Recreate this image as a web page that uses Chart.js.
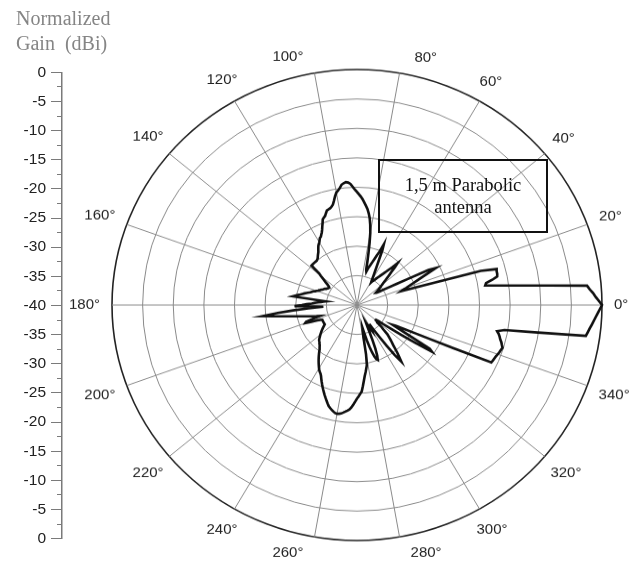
<!DOCTYPE html>
<html>
<head>
<meta charset="utf-8">
<title>Normalized Gain</title>
<script src="https://cdn.jsdelivr.net/npm/chart.js@4.4.1/dist/chart.umd.min.js"></script>
<style>
  html, body { margin: 0; padding: 0; background: #fff; }
  #wrap { position: relative; width: 644px; height: 569px; overflow: hidden; background: #fff; }
  #polar { position: absolute; left: 0; top: 0; transform-origin: 0 305px; transform: scaleY(0.9612); }
  #gainAxis { position: absolute; left: 0; top: 58px; }
  #title { position: absolute; left: 16px; top: 6px; font-family: "Liberation Serif", "Times New Roman", serif;
           font-size: 20px; line-height: 25px; color: #858585; white-space: pre; }
  #note { position: absolute; left: 378px; top: 159px; width: 170px; height: 74px; box-sizing: border-box;
          border: 2px solid #111; padding-top: 13px; text-align: center;
          font-family: "Liberation Serif", "Times New Roman", serif; font-size: 18.5px; line-height: 22px; color: #111; }
</style>
</head>
<body>
<div id="wrap">
  <canvas id="polar" width="644" height="569"></canvas>
  <canvas id="gainAxis" width="70" height="495"></canvas>
  <div id="title">Normalized
Gain  (dBi)</div>
  <div id="note">1,5 m Parabolic<br>antenna</div>
</div>
<script>
// Radiation pattern, gain in dB at every degree (index = azimuth, counter-clockwise from 0°)
const gainDb = [
  0.0, -0.5, -1.0, -1.4, -1.9, -2.3, -8.4, -12.9, -16.2, -18.8,            // 0-9
  -18.6, -17.5, -16.6, -16.5, -16.5, -16.4, -19.0, -28.4, -32.4, -32.0,    // 10-19
  -31.4, -30.8, -30.1, -29.3, -28.4, -27.2, -25.7, -26.9, -30.5, -32.6,    // 20-29
  -33.9, -34.8, -35.6, -36.2, -36.3, -36.0, -35.8, -35.5, -35.3, -35.0,    // 30-39
  -34.7, -34.3, -33.8, -33.3, -32.7, -32.0, -31.1, -30.3, -31.4, -32.0,    // 40-49
  -32.6, -33.1, -33.5, -33.9, -34.2, -34.5, -34.8, -35.0, -35.2, -35.5,    // 50-59
  -35.2, -34.7, -34.1, -33.4, -32.5, -31.4, -29.8, -28.8, -30.3, -31.0,    // 60-69
  -31.7, -32.3, -32.8, -33.2, -33.6, -34.1, -33.8, -32.5, -31.0, -29.2,    // 70-79
  -27.5, -26.2, -25.1, -24.3, -23.6, -23.1, -22.6, -22.05, -21.6, -21.2,   // 80-89
  -20.8, -20.4, -19.9, -19.4, -19.15, -19.05, -19.2, -19.4, -19.9, -20.3,  // 90-99
  -20.6, -21.2, -21.9, -22.5, -22.8, -23.0, -23.1, -23.2, -23.6, -24.0,    // 100-109
  -24.2, -24.4, -25.0, -25.5, -26.0, -26.4, -26.7, -27.0, -27.1, -27.4,    // 110-119
  -27.7, -27.9, -28.1, -28.4, -28.7, -29.0, -29.2, -29.4, -29.6, -29.8,    // 120-129
  -29.9, -30.0, -30.0, -30.0, -30.0, -30.0, -30.0, -30.0, -30.0, -31.8,    // 130-139
  -32.3, -32.8, -33.2, -33.6, -34.0, -34.3, -34.5, -34.6, -34.5, -34.5,    // 140-149
  -34.4, -34.3, -34.1, -34.0, -33.9, -33.8, -33.6, -33.5, -33.3, -33.2,    // 150-159
  -33.0, -32.8, -32.5, -32.3, -32.1, -31.85, -31.5, -31.2, -30.9, -30.6,   // 160-169
  -30.2, -29.8, -29.4, -34.9, -34.5, -34.1, -33.6, -33.1, -32.6, -31.8,    // 170-179
  -31.0, -29.8, -33.0, -34.5, -32.0, -29.5, -27.0, -24.5, -26.3, -27.8,    // 180-189
  -29.0, -30.0, -30.8, -31.5, -32.1, -32.6, -33.1, -33.6, -32.3, -31.2,    // 190-199
  -31.0, -32.0, -33.0, -33.5, -33.8, -33.8, -33.8, -33.8, -33.8, -33.8,    // 200-209
  -33.8, -33.8, -33.8, -33.6, -33.4, -33.2, -33.0, -32.8, -32.6, -32.4,    // 210-219
  -32.2, -32.0, -31.8, -31.6, -31.4, -31.3, -31.2, -31.0, -30.9, -30.7,    // 220-229
  -30.5, -30.3, -30.0, -29.7, -29.4, -29.1, -28.8, -28.5, -28.2, -27.9,    // 230-239
  -27.6, -27.3, -27.1, -26.9, -26.6, -26.2, -25.8, -25.4, -25.0, -24.6,    // 240-249
  -24.2, -23.8, -23.4, -23.0, -22.6, -22.2, -21.95, -21.7, -21.5, -21.3,   // 250-259
  -21.25, -21.3, -21.4, -21.6, -21.8, -22.0, -22.2, -22.6, -23.1, -23.6,   // 260-269
  -24.1, -24.5, -24.9, -25.3, -26.2, -27.1, -27.9, -28.5, -29.1, -29.7,    // 270-279
  -31.5, -34.6, -35.5, -36.0, -35.0, -33.8, -32.6, -31.6, -30.8, -30.3,    // 280-289
  -30.1, -30.8, -32.0, -33.5, -35.0, -36.0, -36.6, -36.0, -35.5, -35.0,    // 290-299
  -35.5, -36.0, -36.0, -35.0, -33.5, -31.5, -29.5, -28.0, -28.8, -29.5,    // 300-309
  -30.3, -31.0, -31.5, -32.0, -32.5, -33.0, -34.0, -34.5, -35.5, -35.5,    // 310-319
  -36.0, -36.0, -35.5, -34.5, -33.0, -31.0, -28.5, -25.4, -26.0, -31.0,    // 320-329
  -33.3, -32.8, -31.5, -29.8, -27.2, -22.7, -16.0, -15.9, -15.8, -15.7,    // 330-339
  -15.55, -15.4, -15.3, -15.15, -15.4, -15.6, -15.9, -16.1, -16.35, -16.7, // 340-349
  -15.55, -10.1, -2.28, -2.04, -1.8, -1.53, -1.25, -0.97, -0.66, -0.34     // 350-359
];

// Angle scale: one category per degree, clockwise from 0° at the right
const angleDeg = Array.from({ length: 360 }, (_, i) => (360 - i) % 360);
// Labelled azimuths and radial ring values
const angleTicks = [0, 20, 40, 60, 80, 100, 120, 140, 160, 180, 200, 220, 240, 260, 280, 300, 320, 340];
const gainMin = -40, gainMax = 0, gainStep = 5;

const gridGrey = '#8a8a8a';
const labelFont = '15px "Liberation Sans", Arial, Helvetica, sans-serif';
// labels next to the vertical axis are nudged sideways, clear of the 90°/270° lines
const labelNudge = { 80: -5, 100: 5, 260: -5, 280: 5 };

// Azimuth labels placed just outside the outer ring, via the radial scale
const azimuthLabels = {
  id: 'azimuthLabels',
  afterDraw(chart) {
    const r = chart.scales.r;
    const ctx = chart.ctx;
    ctx.save();
    ctx.font = labelFont;
    ctx.fillStyle = '#222';
    ctx.textAlign = 'center';
    ctx.textBaseline = 'middle';
    angleTicks.forEach(a => {
      const text = a + '\u00B0';
      const w = ctx.measureText(text).width;
      const at = a + (labelNudge[a] || 0);
      const rad = at * Math.PI / 180;
      const extent = Math.abs(Math.cos(rad)) * w / 2 + Math.abs(Math.sin(rad)) * 6;
      const p = r.getPointPosition((360 - at) % 360, r.drawingArea + 12 + extent);
      ctx.fillText(text, p.x, p.y);
    });
    ctx.restore();
  }
};

new Chart(document.getElementById('polar'), {
  type: 'radar',
  data: {
    labels: angleDeg,
    datasets: [{
      data: angleDeg.map(a => gainDb[a]),
      borderColor: '#111',
      borderWidth: 2.6,
      fill: false,
      pointRadius: 0,
      pointHoverRadius: 0,
      tension: 0
    }]
  },
  options: {
    responsive: false,
    animation: false,
    layout: { padding: { left: 112, right: 41, top: 60, bottom: 18 } },
    plugins: { legend: { display: false }, tooltip: { enabled: false } },
    scales: {
      r: {
        min: gainMin,
        max: gainMax,
        startAngle: 90,
        ticks: { display: false, stepSize: gainStep },
        pointLabels: { display: false },
        grid: {
          circular: true,
          color: ctx => ctx.tick && ctx.tick.value === gainMax ? '#222' : gridGrey,
          lineWidth: ctx => ctx.tick && ctx.tick.value === gainMax ? 1.6 : 1
        },
        angleLines: {
          display: true,
          color: gridGrey,
          lineWidth: ctx => (ctx.label % 20 === 0 ? 1 : 0)
        }
      }
    }
  },
  plugins: [azimuthLabels]
});

// Vertical gain scale on the left: 0 at both ends, -40 at the pattern centre
new Chart(document.getElementById('gainAxis'), {
  type: 'scatter',
  data: { datasets: [] },
  options: {
    responsive: false,
    animation: false,
    layout: { padding: { top: 12, bottom: 12, left: 0, right: 0 } },
    plugins: { legend: { display: false }, tooltip: { enabled: false } },
    scales: {
      x: { display: false, min: 0, max: 1 },
      y: {
        position: 'left',
        min: -40, max: 40,
        afterFit: s => { s.width = 57; },
        ticks: {
          stepSize: 2.5,
          autoSkip: false,
          padding: 5,
          color: '#222',
          font: { family: '"Liberation Sans", Arial, sans-serif', size: 15.5 },
          callback: v => (v % 5 === 0 ? String(Math.abs(v) - 40) : '')
        },
        grid: {
          drawOnChartArea: true,
          tickLength: 6,
          color: '#7a7a7a',
          lineWidth: 1,
          tickColor: ctx => (ctx.tick && ctx.tick.value % 5 === 0 ? '#7a7a7a' : 'rgba(0,0,0,0)')
        },
        border: { display: false }
      },
      y2: {
        position: 'right',
        min: -40, max: 40,
        afterFit: s => { s.width = 8; },
        ticks: { display: false },
        grid: { drawOnChartArea: false, drawTicks: false },
        border: { display: true, color: '#7a7a7a', width: 1.5 }
      }
    }
  }
});
</script>
</body>
</html>
